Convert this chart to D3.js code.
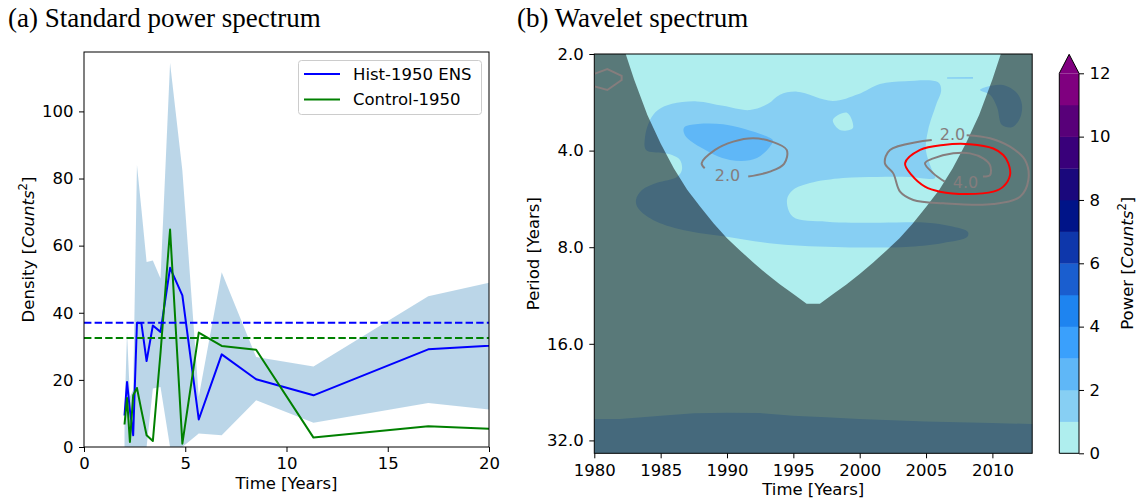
<!DOCTYPE html>
<html><head><meta charset="utf-8">
<script src="https://cdn.jsdelivr.net/npm/d3@7"></script>
<style>body{margin:0;background:#fff} svg{display:block} text{font-family:"DejaVu Sans",sans-serif}</style>
</head><body><svg id="c" width="1138" height="502"></svg>
<script>
// ---------------- (a) power spectrum data ----------------
const periods   = [2.0, 2.125, 2.267, 2.429, 2.615, 2.833, 3.091, 3.4, 3.778, 4.25, 4.857, 5.667, 6.8, 8.5, 11.333, 17.0, 34.0];
const histEns   = [9.4, 19.4, 11.0, 3.5, 37.0, 36.9, 25.6, 36.2, 34.3, 53.4, 45.2, 8.2, 27.6, 20.2, 15.4, 29.1, 35.3];
const control   = [6.7, 14.6, 1.5, 15.4, 17.6, 11.0, 3.5, 1.8, 28.0, 64.8, 1.0, 34.1, 30.1, 29.0, 2.8, 6.2, 1.7];
const bandUpper = [10, 34, 15, 17, 84, 71, 55.1, 55.6, 50.2, 114.4, 82.4, 15, 52.1, 26.8, 24.0, 44.9, 68];
const bandLower = [0, 0, 0, 0, 0, 0, 0, 17.4, 17.9, 0, 0, 4.0, 3.5, 13.9, 7.2, 13.1, 2.3];
const histMean = 37.0;
const controlMean = 32.5;
const seriesNames = ["Hist-1950 ENS", "Control-1950"];
const xTicksL = [0, 5, 10, 15, 20];
const yTicksL = [0, 20, 40, 60, 80, 100];

// ---------------- (b) wavelet data ----------------
const coiYears = [1980,1981,1982,1983,1984,1985,1986,1987,1988,1989,1990,1991,1992,1993,1994,1995,1996,1997,1998,1999,2000,2001,2002,2003,2004,2005,2006,2007,2008,2009,2010,2011,2012,2013];
const coiPeriod = [0.5,1.0,1.8,2.4,3.1,3.8,4.55,5.3,6.0,6.75,7.5,8.2,8.95,9.7,10.45,11.2,12.0,12.0,11.2,10.45,9.7,8.95,8.2,7.5,6.75,6.0,5.3,4.55,3.8,3.1,2.4,1.8,1.0,0.5];
const powerLevels = [0,1,2,3,4,5,6,7,8,9,10,11,12];
const levelColors = ["#afeeee","#87cff3","#5fb7f7","#3aa0fc","#1e84f0","#1a5ecf","#0e37ab","#001488","#1a087c","#39007a","#580079","#7f007f"];
const overColor = "#800080";
// power 1-2 region (year, period)
const level1Main = [[1983.9,3.98],[1983.82,3.63],[1984.2,3.21],[1984.8,2.99],[1985.86,2.86],[1987.74,2.81],[1989.7,2.90],[1991.73,2.99],[1993.09,2.86],[1993.99,2.68],[1995.27,2.62],[1997.98,2.80],[1999.87,2.67],[2001.53,2.48],[2003.42,2.43],[2005.91,2.45],[2006.14,2.59],[2005.76,2.88],[2005.16,3.45],[2004.99,3.98],[2005.45,4.60],[2005.68,4.87],[2003.8,4.83],[2001.3,4.83],[1998.74,4.87],[1996.25,5.05],[1994.97,5.31],[1994.52,5.70],[1994.97,6.43],[1997.53,6.66],[2001.3,6.71],[2005.08,6.71],[2006.81,6.87],[2008.16,7.17],[2008.1,7.44],[2006.29,7.76],[2003.8,7.97],[1998.74,8.0],[1993.77,7.82],[1990.0,7.42],[1986.68,7.07],[1984.42,6.58],[1983.29,6.04],[1983.14,5.70],[1983.59,5.31],[1984.72,5.04],[1986.23,4.83],[1986.6,4.60],[1986.46,4.28],[1985.86,4.13],[1985.18,4.07]];
const level1Hole = [[1997.98,3.21],[1999.04,3.05],[1999.49,3.40],[1998.51,3.45]];
const level1UpperRight = [[2009.07,2.59],[2009.59,2.53],[2010.8,2.50],[2011.86,2.65],[2012.23,2.88],[2012.08,3.17],[2011.48,3.38],[2010.72,3.33],[2010.35,2.93],[2009.82,2.68]];
const level1Sliver = [[2006.59,2.365],[2008.54,2.357],[2008.54,2.39],[2006.59,2.39]];
const level1Bottom = [[1979,27.44],[1980,27.44],[1981.9,27.44],[1985,26.8],[1987.5,26.35],[1990,26.24],[1992.5,26.3],[1995,26.8],[1997.5,27.11],[2000,27.44],[2002.5,27.7],[2005,27.96],[2007.5,28.1],[2010,28.24],[2013,28.44],[2014,28.5],[2014,40],[1979,40]];
const level2 = [[1987.2,3.33],[1989.7,3.31],[1993.23,3.65],[1993.46,3.73],[1992.26,4.22],[1990.23,4.28],[1987.97,3.90],[1986.83,3.58],[1986.75,3.40]];
// line contours
const grayLeft = [[1988.32,4.54],[1988.09,4.38],[1989.1,3.98],[1990.47,3.75],[1991.98,3.66],[1993.37,3.75],[1994.5,3.98],[1994.3,4.40],[1993.24,4.65],[1991.6,4.82]];
const grayRightOuter = [[2005.43,3.71],[2002.28,3.98],[2001.9,4.38],[2002.53,4.71],[2003.04,5.37],[2004.04,5.70],[2006.3,5.84],[2010.07,5.87],[2012.08,5.57],[2012.71,4.94],[2012.46,4.28],[2011.33,3.89],[2009.82,3.66],[2008.06,3.58]];
const grayRightInner = [[2006.41,5.0],[2005.55,4.71],[2004.92,4.38],[2005.55,4.23],[2007.05,4.08],[2008.31,4.08],[2009.31,4.23],[2009.82,4.44],[2009.82,4.77],[2009.29,4.82]];
const grayCorner = [[1979.7,2.33],[1980.98,2.23],[1982.06,2.34],[1982.06,2.41],[1980.98,2.59],[1979.7,2.5]];
const redSig = [[2003.42,4.38],[2004.55,3.98],[2006.3,3.84],[2008.31,3.82],[2010.07,3.94],[2010.82,4.13],[2011.2,4.38],[2011.33,4.77],[2010.82,5.18],[2010.07,5.37],[2008.06,5.46],[2006.05,5.37],[2004.92,5.18],[2003.92,4.77]];
const contourLabels = [{t:"2.0", year:1990.04, period:4.77},{t:"2.0", year:2006.99, period:3.56},{t:"4.0", year:2007.97, period:5.03}];
const xTicksW = [1980,1985,1990,1995,2000,2005,2010];
const yTicksW = [2,4,8,16,32];
const cbTicks = [0,2,4,6,8,10,12];

// ---------------- drawing ----------------
const svg = d3.select("#c");
const FS = 16.5;
const FF = "DejaVu Sans";

function styleAxis(g){
  g.attr("font-size", FS).attr("font-family", FF);
  g.select(".domain").remove();
  g.selectAll(".tick line").attr("stroke","#000").attr("stroke-width",1);
  g.selectAll(".tick text").attr("fill","#000");
}

// titles
svg.append("text").attr("x",8).attr("y",27).style("font-family","'Liberation Serif', serif").attr("font-size",27).text("(a) Standard power spectrum");
svg.append("text").attr("x",517).attr("y",27).style("font-family","'Liberation Serif', serif").attr("font-size",27).text("(b) Wavelet spectrum");

// ===== panel (a) =====
const L = {x0:84, x1:489, y0:52, y1:447};
const xL = d3.scaleLinear().domain([0,20]).range([L.x0,L.x1]);
const yL = d3.scaleLinear().domain([0,117.7]).range([L.y1,L.y0]);
svg.append("clipPath").attr("id","clipL").append("rect").attr("x",L.x0).attr("y",L.y0).attr("width",L.x1-L.x0).attr("height",L.y1-L.y0);
const gL = svg.append("g").attr("clip-path","url(#clipL)");
const band = periods.map((p,i)=>({p, lo:bandLower[i], hi:bandUpper[i]}));
gL.append("path").datum(band)
  .attr("d", d3.area().x(d=>xL(d.p)).y0(d=>yL(d.lo)).y1(d=>yL(d.hi)))
  .attr("fill","#1f77b4").attr("fill-opacity",0.3);
const lineL = d3.line().x(d=>xL(d[0])).y(d=>yL(d[1]));
gL.append("path").datum(periods.map((p,i)=>[p,histEns[i]])).attr("d",lineL)
  .attr("fill","none").attr("stroke","#0000ff").attr("stroke-width",2).attr("stroke-linejoin","round");
gL.append("path").datum(periods.map((p,i)=>[p,control[i]])).attr("d",lineL)
  .attr("fill","none").attr("stroke","#008000").attr("stroke-width",2).attr("stroke-linejoin","round");
[[histMean,"#0000ff"],[controlMean,"#008000"]].forEach(([v,c])=>{
  gL.append("line").attr("x1",L.x0).attr("x2",L.x1).attr("y1",yL(v)).attr("y2",yL(v))
    .attr("stroke",c).attr("stroke-width",2).attr("stroke-dasharray","7.4,3.2");
});
svg.append("g").attr("transform",`translate(0,${L.y1})`)
  .call(d3.axisBottom(xL).tickValues(xTicksL).tickSize(5).tickPadding(5.5).tickFormat(d3.format("d"))).call(styleAxis);
svg.append("g").attr("transform",`translate(${L.x0},0)`)
  .call(d3.axisLeft(yL).tickValues(yTicksL).tickSize(5).tickPadding(5.5).tickFormat(d3.format("d"))).call(styleAxis);
svg.append("rect").attr("x",L.x0).attr("y",L.y0).attr("width",L.x1-L.x0).attr("height",L.y1-L.y0)
  .attr("fill","none").attr("stroke","#000").attr("stroke-width",1);
svg.append("text").attr("x",(L.x0+L.x1)/2).attr("y",489).attr("text-anchor","middle")
  .attr("font-size",FS).text("Time [Years]");
function countsLabel(x, y, prefix){
  const t = svg.append("text").attr("transform",`translate(${x},${y}) rotate(-90)`)
    .attr("text-anchor","middle").attr("font-size",FS);
  t.append("tspan").text(prefix + " [");
  t.append("tspan").attr("font-style","italic").text("Counts");
  t.append("tspan").attr("font-size",FS*0.7).attr("dy",-7).text("2");
  t.append("tspan").attr("dy",7).text("]");
}
countsLabel(34, (L.y0+L.y1)/2, "Density");

// legend
const lg = svg.append("g");
lg.append("rect").attr("x",298.5).attr("y",60.5).attr("width",183).attr("height",54).attr("rx",3)
  .attr("fill","#fff").attr("fill-opacity",0.8).attr("stroke","#cccccc");
[["#0000ff",74],["#008000",99.5]].forEach(([c,y],i)=>{
  lg.append("line").attr("x1",304).attr("x2",340).attr("y1",y).attr("y2",y).attr("stroke",c).attr("stroke-width",2);
  lg.append("text").attr("x",353).attr("y",y).attr("dy","0.36em").attr("font-size",FS).text(seriesNames[i]);
});

// ===== panel (b) =====
const W = {x0:594.3, x1:1032.2, y0:54, y1:453.3};
const xW = d3.scaleLinear().domain([1980,2013]).range([W.x0,W.x1]);
const yW = d3.scaleLog().base(2).domain([2,35.1]).range([W.y0,W.y1]);
svg.append("clipPath").attr("id","clipW").append("rect").attr("x",W.x0).attr("y",W.y0).attr("width",W.x1-W.x0).attr("height",W.y1-W.y0);
const gW = svg.append("g").attr("clip-path","url(#clipW)");
gW.append("rect").attr("x",W.x0).attr("y",W.y0).attr("width",W.x1-W.x0).attr("height",W.y1-W.y0).attr("fill",levelColors[0]);
const smooth = d3.line().x(d=>xW(d[0])).y(d=>yW(d[1])).curve(d3.curveCatmullRomClosed.alpha(0.5));
const linClosed = d3.line().x(d=>xW(d[0])).y(d=>yW(d[1])).curve(d3.curveLinearClosed);
gW.append("path").attr("d", smooth(level1Main) + smooth(level1Hole)).attr("fill-rule","evenodd").attr("fill",levelColors[1]);
gW.append("path").attr("d", smooth(level1UpperRight)).attr("fill",levelColors[1]);
gW.append("path").attr("d", linClosed(level1Sliver)).attr("fill",levelColors[1]);
gW.append("path").attr("d", linClosed(level1Bottom)).attr("fill",levelColors[1]);
gW.append("path").attr("d", smooth(level2)).attr("fill",levelColors[2]);
// cone of influence shading
const coiPts = coiYears.map((y,i)=>[y,coiPeriod[i]]).concat([[2013,40],[1980,40]]);
gW.append("path").attr("d", linClosed(coiPts)).attr("fill","#000").attr("fill-opacity",0.49);
// contour lines
const lineOpen = d3.line().x(d=>xW(d[0])).y(d=>yW(d[1])).curve(d3.curveCatmullRom.alpha(0.5));
const linOpen = d3.line().x(d=>xW(d[0])).y(d=>yW(d[1]));
[grayLeft, grayRightOuter, grayRightInner].forEach(c=>{
  gW.append("path").attr("d", lineOpen(c)).attr("fill","none").attr("stroke","#857d7d").attr("stroke-width",2);
});
gW.append("path").attr("d", linOpen(grayCorner)).attr("fill","none").attr("stroke","#857d7d").attr("stroke-width",2);
gW.append("path").attr("d", smooth(redSig)).attr("fill","none").attr("stroke","#ff0000").attr("stroke-width",2);
contourLabels.forEach(l=>{
  gW.append("text").attr("x",xW(l.year)).attr("y",yW(l.period)).attr("dy","0.36em")
    .attr("text-anchor","middle").attr("font-size",16).attr("fill","#857d7d").text(l.t);
});
svg.append("g").attr("transform",`translate(0,${W.y1})`)
  .call(d3.axisBottom(xW).tickValues(xTicksW).tickSize(5).tickPadding(5.5).tickFormat(d3.format("d"))).call(styleAxis);
svg.append("g").attr("transform",`translate(${W.x0},0)`)
  .call(d3.axisLeft(yW).tickValues(yTicksW).tickSize(5).tickPadding(5.5).tickFormat(d3.format(".1f"))).call(styleAxis);
svg.append("rect").attr("x",W.x0).attr("y",W.y0).attr("width",W.x1-W.x0).attr("height",W.y1-W.y0)
  .attr("fill","none").attr("stroke","#000").attr("stroke-width",1);
svg.append("text").attr("x",(W.x0+W.x1)/2).attr("y",495).attr("text-anchor","middle")
  .attr("font-size",FS).text("Time [Years]");
svg.append("text").attr("transform",`translate(539,${(W.y0+W.y1)/2}) rotate(-90)`)
  .attr("text-anchor","middle").attr("font-size",FS).text("Period [Years]");

// ===== colorbar =====
const C = {x0:1059.3, x1:1079, y0:73.3, y1:453.3, tip:54.3};
const yC = d3.scaleLinear().domain([0,12]).range([C.y1,C.y0]);
const gC = svg.append("g");
levelColors.forEach((c,i)=>{
  gC.append("rect").attr("x",C.x0).attr("y",yC(powerLevels[i+1])).attr("width",C.x1-C.x0)
    .attr("height",yC(powerLevels[i])-yC(powerLevels[i+1])+0.3).attr("fill",c);
});
gC.append("path").attr("d",`M${C.x0},${C.y0}L${(C.x0+C.x1)/2},${C.tip}L${C.x1},${C.y0}Z`).attr("fill",overColor);
gC.append("path").attr("d",`M${C.x0},${C.y1}L${C.x0},${C.y0}L${(C.x0+C.x1)/2},${C.tip}L${C.x1},${C.y0}L${C.x1},${C.y1}Z`)
  .attr("fill","none").attr("stroke","#000").attr("stroke-width",1);
svg.append("g").attr("transform",`translate(${C.x1},0)`)
  .call(d3.axisRight(yC).tickValues(cbTicks).tickSize(5).tickPadding(5.5).tickFormat(d3.format("d"))).call(styleAxis);
countsLabel(1133, (C.y0+C.y1)/2, "Power");
</script></body></html>
